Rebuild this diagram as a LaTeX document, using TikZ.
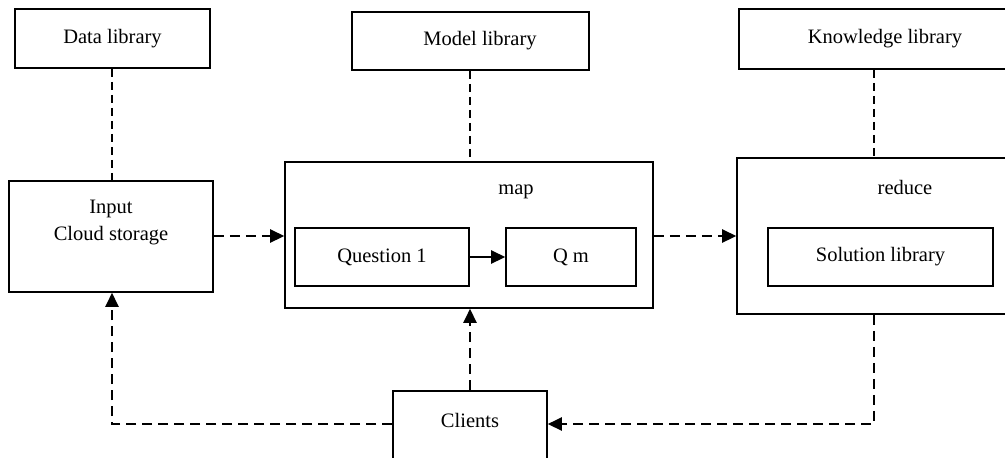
\documentclass[tikz,border=0pt]{standalone}
\usepackage{fontspec}
\setmainfont{Liberation Serif}
\usetikzlibrary{arrows.meta}
\begin{document}
\begin{tikzpicture}[x=1pt,y=-1pt,
  box/.style={draw, line width=1.6pt, inner sep=0pt, anchor=center},
  lbl/.style={inner sep=0pt, font=\fontsize{20.5}{27}\selectfont, align=center},
  thin/.style={line width=2pt, dash pattern=on 8pt off 5pt},
  darrow/.style={line width=2.6pt, dash pattern=on 10pt off 6pt, -{Triangle[length=14pt,width=13pt]}},
  sarrow/.style={line width=2.6pt, -{Triangle[length=14pt,width=13pt]}}]
\clip (0,0) rectangle (1005,458);
\useasboundingbox (0,0) rectangle (1005,458);
\fill[white] (0,0) rectangle (1005,458);
% top libraries
\node[box, minimum width=195pt, minimum height=59pt] (data) at (112.5,38.5) {};
\node[lbl] (datat) at (112.5,38.5) {Data library};
\node[box, minimum width=237pt, minimum height=58pt] (model) at (470.5,41) {};
\node[lbl] (modelt) at (480,41) {Model library};
\node[box, minimum width=292pt, minimum height=60pt] (know) at (885,39) {};
\node[lbl] (knowt) at (885,39) {Knowledge library};
% input
\node[box, minimum width=204pt, minimum height=111pt] (input) at (111,236.5) {};
\node[lbl] (inputt) at (111,222) {Input\\Cloud storage};
% map
\node[box, minimum width=368pt, minimum height=146pt] (map) at (469,235) {};
\node[lbl] (mapt) at (516,192) {map};
\node[box, minimum width=174pt, minimum height=58pt] (q1) at (382,257) {};
\node[lbl] (q1t) at (382,257) {Question 1};
\node[box, minimum width=130pt, minimum height=58pt] (qm) at (571,257) {};
\node[lbl] (qmt) at (571,257) {Q m};
% reduce
\node[box, minimum width=293pt, minimum height=156pt] (reduce) at (883.5,236) {};
\node[lbl] (reducet) at (905,187) {reduce};
\node[box, minimum width=225pt, minimum height=58pt] (sol) at (880.5,257) {};
\node[lbl] (solt) at (880.5,257) {Solution library};
% clients
\node[box, minimum width=154pt, minimum height=76pt] (clients) at (470,429) {};
\node[lbl] (clientst) at (470,420) {Clients};
% helper coordinates
\coordinate (xa) at (112,0);
\coordinate (xb) at (470,0);
\coordinate (xc) at (874,0);
\coordinate (ya) at (0,236);
\coordinate (yc) at (0,424);
% connectors
\draw[thin] (data.south -| xa) -- (input.north -| xa);
\draw[thin] (model.south -| xb) -- (map.north -| xb);
\draw[thin] (know.south -| xc) -- (reduce.north -| xc);
\draw[darrow] (input.east |- ya) -- (map.west |- ya);
\draw[darrow] (map.east |- ya) -- (reduce.west |- ya);
\draw[sarrow] (q1.east) -- (qm.west);
\draw[darrow] (reduce.south -| xc) -- (xc |- yc) -- (clients.east |- yc);
\draw[darrow] (clients.west |- yc) -- (xa |- yc) -- (input.south -| xa);
\draw[darrow] (clients.north -| xb) -- (map.south -| xb);
\end{tikzpicture}
\end{document}
